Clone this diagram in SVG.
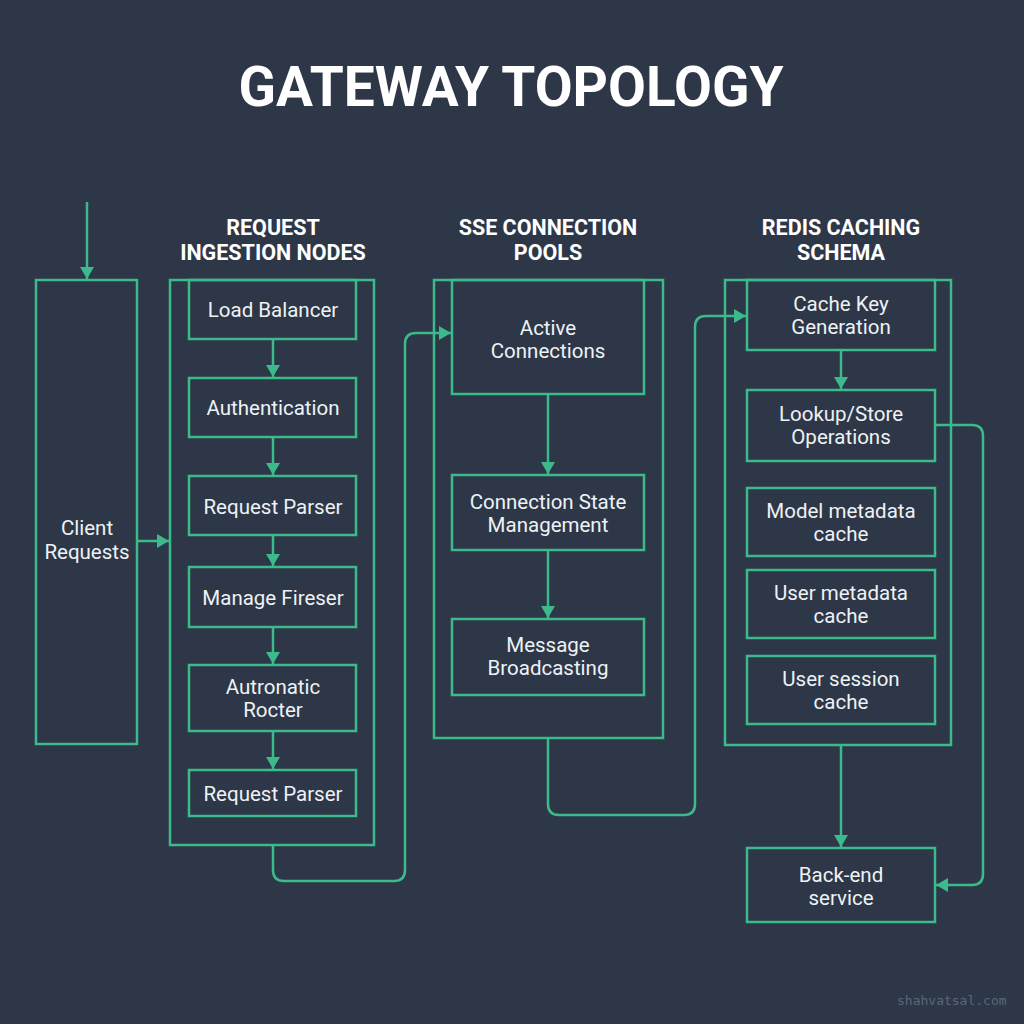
<svg xmlns="http://www.w3.org/2000/svg" width="1024" height="1024" viewBox="0 0 1024 1024">
  <defs>
    <style>
      .box { fill: none; stroke: #3dba8b; stroke-width: 2.5; }
      .line { fill: none; stroke: #3dba8b; stroke-width: 2.5; }
      .lbl { font-family: Roboto, "Liberation Sans", sans-serif; font-size: 20.5px; fill: #eef2f5; text-anchor: middle; }
      .hdr { font-family: Roboto, "Liberation Sans", sans-serif; font-size: 21.5px; font-weight: bold; fill: #ffffff; text-anchor: middle; }
      .title { font-family: Roboto, "Liberation Sans", sans-serif; font-size: 55px; font-weight: bold; fill: #ffffff; text-anchor: middle; }
      .wm { font-family: "DejaVu Sans Mono", "Liberation Mono", monospace; font-size: 13px; fill: #5b6678; }
    </style>
    <marker id="arr" markerWidth="14" markerHeight="14" refX="12" refY="7" orient="auto" markerUnits="userSpaceOnUse">
      <path d="M0,0 L12,7 L0,14 z" fill="#3dba8b"/>
    </marker>
  </defs>
  <rect width="1024" height="1024" fill="#2d3748"/>
  <text class="title" x="511" y="106">GATEWAY TOPOLOGY</text>

  <g id="headers">
    <text class="hdr" x="273" y="235">REQUEST</text>
    <text class="hdr" x="273" y="260">INGESTION NODES</text>
    <text class="hdr" x="548" y="235">SSE CONNECTION</text>
    <text class="hdr" x="548" y="260">POOLS</text>
    <text class="hdr" x="841" y="235">REDIS CACHING</text>
    <text class="hdr" x="841" y="260">SCHEMA</text>
  </g>

  <g id="client-requests">
    <rect class="box" x="36" y="280" width="101" height="464"/>
    <text class="lbl" x="87" y="535">Client</text>
    <text class="lbl" x="87" y="559">Requests</text>
  </g>

  <g id="ingestion-group">
    <rect class="box" x="170" y="280" width="204" height="565"/>
  </g>
  <g id="load-balancer">
    <rect class="box" x="189" y="280" width="167" height="59"/>
    <text class="lbl" x="273" y="317">Load Balancer</text>
  </g>
  <g id="authentication">
    <rect class="box" x="189" y="378" width="167" height="59"/>
    <text class="lbl" x="273" y="415">Authentication</text>
  </g>
  <g id="request-parser-1">
    <rect class="box" x="189" y="476" width="167" height="59"/>
    <text class="lbl" x="273" y="514">Request Parser</text>
  </g>
  <g id="manage-fireser">
    <rect class="box" x="189" y="567" width="167" height="60"/>
    <text class="lbl" x="273" y="605">Manage Fireser</text>
  </g>
  <g id="autronatic-rocter">
    <rect class="box" x="189" y="665" width="167" height="66"/>
    <text class="lbl" x="273" y="694">Autronatic</text>
    <text class="lbl" x="273" y="717">Rocter</text>
  </g>
  <g id="request-parser-2">
    <rect class="box" x="189" y="770" width="167" height="46"/>
    <text class="lbl" x="273" y="801">Request Parser</text>
  </g>

  <g id="sse-group">
    <rect class="box" x="434" y="280" width="229" height="458"/>
  </g>
  <g id="active-connections">
    <rect class="box" x="452" y="280" width="192" height="114"/>
    <text class="lbl" x="548" y="335">Active</text>
    <text class="lbl" x="548" y="358">Connections</text>
  </g>
  <g id="connection-state">
    <rect class="box" x="452" y="475" width="192" height="75"/>
    <text class="lbl" x="548" y="509">Connection State</text>
    <text class="lbl" x="548" y="532">Management</text>
  </g>
  <g id="message-broadcasting">
    <rect class="box" x="452" y="619" width="192" height="76"/>
    <text class="lbl" x="548" y="652">Message</text>
    <text class="lbl" x="548" y="675">Broadcasting</text>
  </g>

  <g id="redis-group">
    <rect class="box" x="725" y="280" width="226" height="465"/>
  </g>
  <g id="cache-key-generation">
    <rect class="box" x="747" y="280" width="188" height="70"/>
    <text class="lbl" x="841" y="311">Cache Key</text>
    <text class="lbl" x="841" y="334">Generation</text>
  </g>
  <g id="lookup-store">
    <rect class="box" x="747" y="390" width="188" height="71"/>
    <text class="lbl" x="841" y="421">Lookup/Store</text>
    <text class="lbl" x="841" y="444">Operations</text>
  </g>
  <g id="model-metadata-cache">
    <rect class="box" x="747" y="488" width="188" height="68"/>
    <text class="lbl" x="841" y="518">Model metadata</text>
    <text class="lbl" x="841" y="541">cache</text>
  </g>
  <g id="user-metadata-cache">
    <rect class="box" x="747" y="570" width="188" height="68"/>
    <text class="lbl" x="841" y="600">User metadata</text>
    <text class="lbl" x="841" y="623">cache</text>
  </g>
  <g id="user-session-cache">
    <rect class="box" x="747" y="656" width="188" height="68"/>
    <text class="lbl" x="841" y="686">User session</text>
    <text class="lbl" x="841" y="709">cache</text>
  </g>
  <g id="back-end-service">
    <rect class="box" x="747" y="848" width="188" height="74"/>
    <text class="lbl" x="841" y="882">Back-end</text>
    <text class="lbl" x="841" y="905">service</text>
  </g>

  <g id="connectors">
    <path class="line" d="M87,202 V279" marker-end="url(#arr)"/>
    <path class="line" d="M137,541 H169" marker-end="url(#arr)"/>
    <path class="line" d="M273,339 V377" marker-end="url(#arr)"/>
    <path class="line" d="M273,437 V475" marker-end="url(#arr)"/>
    <path class="line" d="M273,535 V566" marker-end="url(#arr)"/>
    <path class="line" d="M273,627 V664" marker-end="url(#arr)"/>
    <path class="line" d="M273,731 V769" marker-end="url(#arr)"/>
    <path class="line" d="M273,845 V870 Q273,881 284,881 H394 Q405,881 405,870 V344 Q405,333 416,333 H451" marker-end="url(#arr)"/>
    <path class="line" d="M548,394 V474" marker-end="url(#arr)"/>
    <path class="line" d="M548,550 V618" marker-end="url(#arr)"/>
    <path class="line" d="M548,738 V804 Q548,815 559,815 H684 Q695,815 695,804 V327 Q695,316 706,316 H746" marker-end="url(#arr)"/>
    <path class="line" d="M841,350 V389" marker-end="url(#arr)"/>
    <path class="line" d="M935,425 H972 Q983,425 983,436 V874 Q983,885 972,885 H936" marker-end="url(#arr)"/>
    <path class="line" d="M841,745 V847" marker-end="url(#arr)"/>
  </g>

  <text class="wm" x="897" y="1005">shahvatsal.com</text>
</svg>
